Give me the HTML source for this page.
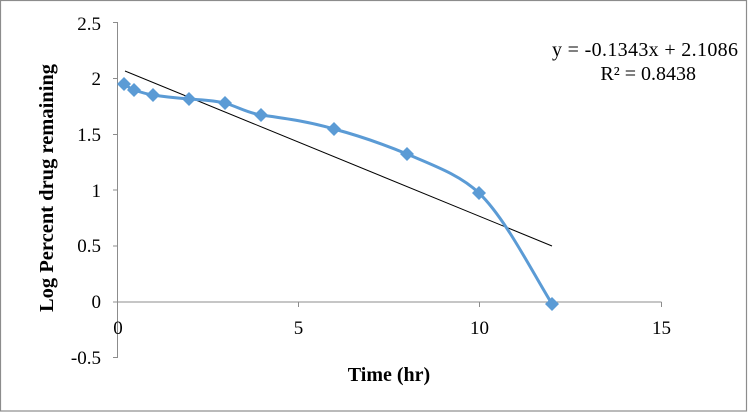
<!DOCTYPE html>
<html><head><meta charset="utf-8"><style>
html,body{margin:0;padding:0;background:#fff}
svg{display:block}
text{font-family:"Liberation Serif",serif;fill:#000}
</style></head><body>
<svg width="749" height="413" xmlns="http://www.w3.org/2000/svg">
<rect x="0.5" y="0.5" width="746" height="410.5" fill="#fff" stroke="#8c8c8c" stroke-width="1.2"/>
<g stroke="#8c8c8c" stroke-width="1">
<line x1="117.5" y1="22" x2="117.5" y2="358"/>
<line x1="113" y1="22.5" x2="117.5" y2="22.5"/>
<line x1="113" y1="78.5" x2="117.5" y2="78.5"/>
<line x1="113" y1="134.5" x2="117.5" y2="134.5"/>
<line x1="113" y1="190" x2="117.5" y2="190"/>
<line x1="113" y1="246" x2="117.5" y2="246"/>
<line x1="113" y1="302" x2="117.5" y2="302"/>
<line x1="113" y1="357.5" x2="117.5" y2="357.5"/>
<line x1="117.5" y1="302" x2="661.5" y2="302"/>
<line x1="298.5" y1="302" x2="298.5" y2="307"/>
<line x1="479.5" y1="302" x2="479.5" y2="307"/>
<line x1="661.5" y1="302" x2="661.5" y2="307"/>
</g>
<g font-size="19" text-anchor="end">
<text x="101" y="30">2.5</text>
<text x="101" y="85">2</text>
<text x="101" y="141">1.5</text>
<text x="101" y="197">1</text>
<text x="101" y="252">0.5</text>
<text x="101" y="308">0</text>
<text x="101" y="364">-0.5</text>
</g>
<g font-size="19" text-anchor="middle">
<text x="118" y="334">0</text>
<text x="298.5" y="334">5</text>
<text x="479.5" y="334">10</text>
<text x="661.5" y="334">15</text>
</g>
<text x="389" y="381" font-size="20" font-weight="bold" text-anchor="middle">Time (hr)</text>
<text transform="translate(53,188) rotate(-90)" font-size="20.5" font-weight="bold" text-anchor="middle">Log Percent drug remaining</text>
<line x1="125" y1="71" x2="552" y2="246" stroke="#000" stroke-width="1"/>
<path d="M124,84 C128,86 130,89 134,90 C140,92 146,94 153,95 C166,97 176,98 189,99 C202,100 212,100 225,103 C238,107 248,113 261,115 C290,119 310,122 334,129 C360,136 383,144 407,154 C435,166 460,175 479,193 C505,218 530,268 552,304" fill="none" stroke="#5b9bd5" stroke-width="3"/>
<g fill="#5b9bd5">
<path d="M124,77 l7,7 l-7,7 l-7,-7z"/>
<path d="M134,83 l7,7 l-7,7 l-7,-7z"/>
<path d="M153,88 l7,7 l-7,7 l-7,-7z"/>
<path d="M189,92 l7,7 l-7,7 l-7,-7z"/>
<path d="M225,96 l7,7 l-7,7 l-7,-7z"/>
<path d="M261,108 l7,7 l-7,7 l-7,-7z"/>
<path d="M334,122 l7,7 l-7,7 l-7,-7z"/>
<path d="M407,147 l7,7 l-7,7 l-7,-7z"/>
<path d="M479,186 l7,7 l-7,7 l-7,-7z"/>
<path d="M552,297 l7,7 l-7,7 l-7,-7z"/>
</g>
<text x="738" y="56" font-size="20" text-anchor="end" textLength="186">y = -0.1343x + 2.1086</text>
<text x="696" y="80" font-size="20" text-anchor="end">R² = 0.8438</text>
</svg>
</body></html>
